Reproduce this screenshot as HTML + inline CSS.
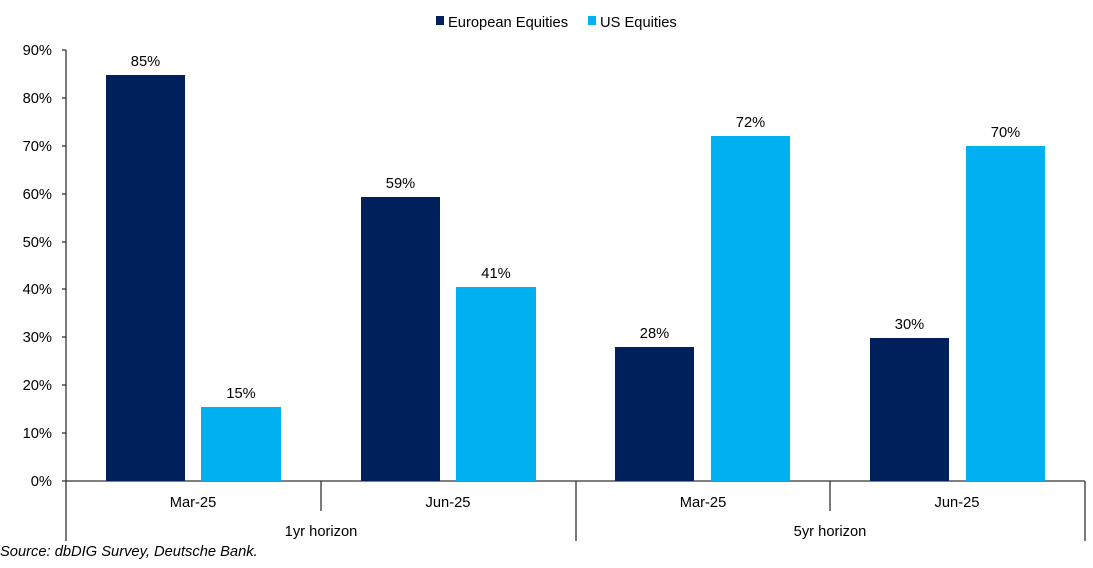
<!DOCTYPE html>
<html><head><meta charset="utf-8"><style>
html,body{margin:0;padding:0;background:#fff;}
svg text{font-family:"Liberation Sans",sans-serif;fill:#000;}
</style></head><body>
<svg width="1093" height="563" xmlns="http://www.w3.org/2000/svg">
<rect width="1093" height="563" fill="#fff"/>
<rect x="436" y="16" width="8" height="9" fill="#00205B"/>
<text x="448" y="27" font-size="14.7">European Equities</text>
<rect x="588" y="16" width="8" height="9" fill="#00B0F0"/>
<text x="600" y="27" font-size="14.7">US Equities</text>
<g stroke="#333" stroke-width="1.3">
<line x1="66" y1="50" x2="66" y2="541"/>
<line x1="62" y1="50" x2="66" y2="50"/>
<line x1="62" y1="98" x2="66" y2="98"/>
<line x1="62" y1="146" x2="66" y2="146"/>
<line x1="62" y1="194" x2="66" y2="194"/>
<line x1="62" y1="242" x2="66" y2="242"/>
<line x1="62" y1="289" x2="66" y2="289"/>
<line x1="62" y1="337" x2="66" y2="337"/>
<line x1="62" y1="385" x2="66" y2="385"/>
<line x1="62" y1="433" x2="66" y2="433"/>
<line x1="62" y1="481" x2="1085" y2="481"/>
<line x1="321" y1="481" x2="321" y2="511"/>
<line x1="830" y1="481" x2="830" y2="511"/>
<line x1="576" y1="481" x2="576" y2="541"/>
<line x1="1085" y1="481" x2="1085" y2="541"/>
</g>
<g font-size="14.7" text-anchor="end">
<text x="52" y="55">90%</text><text x="52" y="103">80%</text><text x="52" y="151">70%</text>
<text x="52" y="199">60%</text><text x="52" y="247">50%</text><text x="52" y="294">40%</text>
<text x="52" y="342">30%</text><text x="52" y="390">20%</text><text x="52" y="438">10%</text>
<text x="52" y="486">0%</text>
</g>
<g fill="#00205B">
<rect x="106" y="75" width="79" height="406"/>
<rect x="361" y="197" width="79" height="284"/>
<rect x="615" y="347" width="79" height="134"/>
<rect x="870" y="338" width="79" height="143"/>
</g>
<g fill="#00B0F0">
<rect x="201" y="407" width="80" height="74"/>
<rect x="456" y="287" width="80" height="194"/>
<rect x="711" y="136" width="79" height="345"/>
<rect x="966" y="146" width="79" height="335"/>
</g>
<g font-size="14.7" text-anchor="middle">
<text x="145.5" y="66">85%</text><text x="241" y="398">15%</text>
<text x="400.5" y="188">59%</text><text x="496" y="278">41%</text>
<text x="654.5" y="338">28%</text><text x="750.5" y="127">72%</text>
<text x="909.5" y="329">30%</text><text x="1005.5" y="137">70%</text>
<text x="193" y="507">Mar-25</text><text x="448" y="507">Jun-25</text>
<text x="703" y="507">Mar-25</text><text x="957" y="507">Jun-25</text>
<text x="321" y="536">1yr horizon</text><text x="830" y="536">5yr horizon</text>
</g>
<text x="0" y="556" font-size="14.7" font-style="italic">Source: dbDIG Survey, Deutsche Bank.</text>
</svg>
</body></html>
